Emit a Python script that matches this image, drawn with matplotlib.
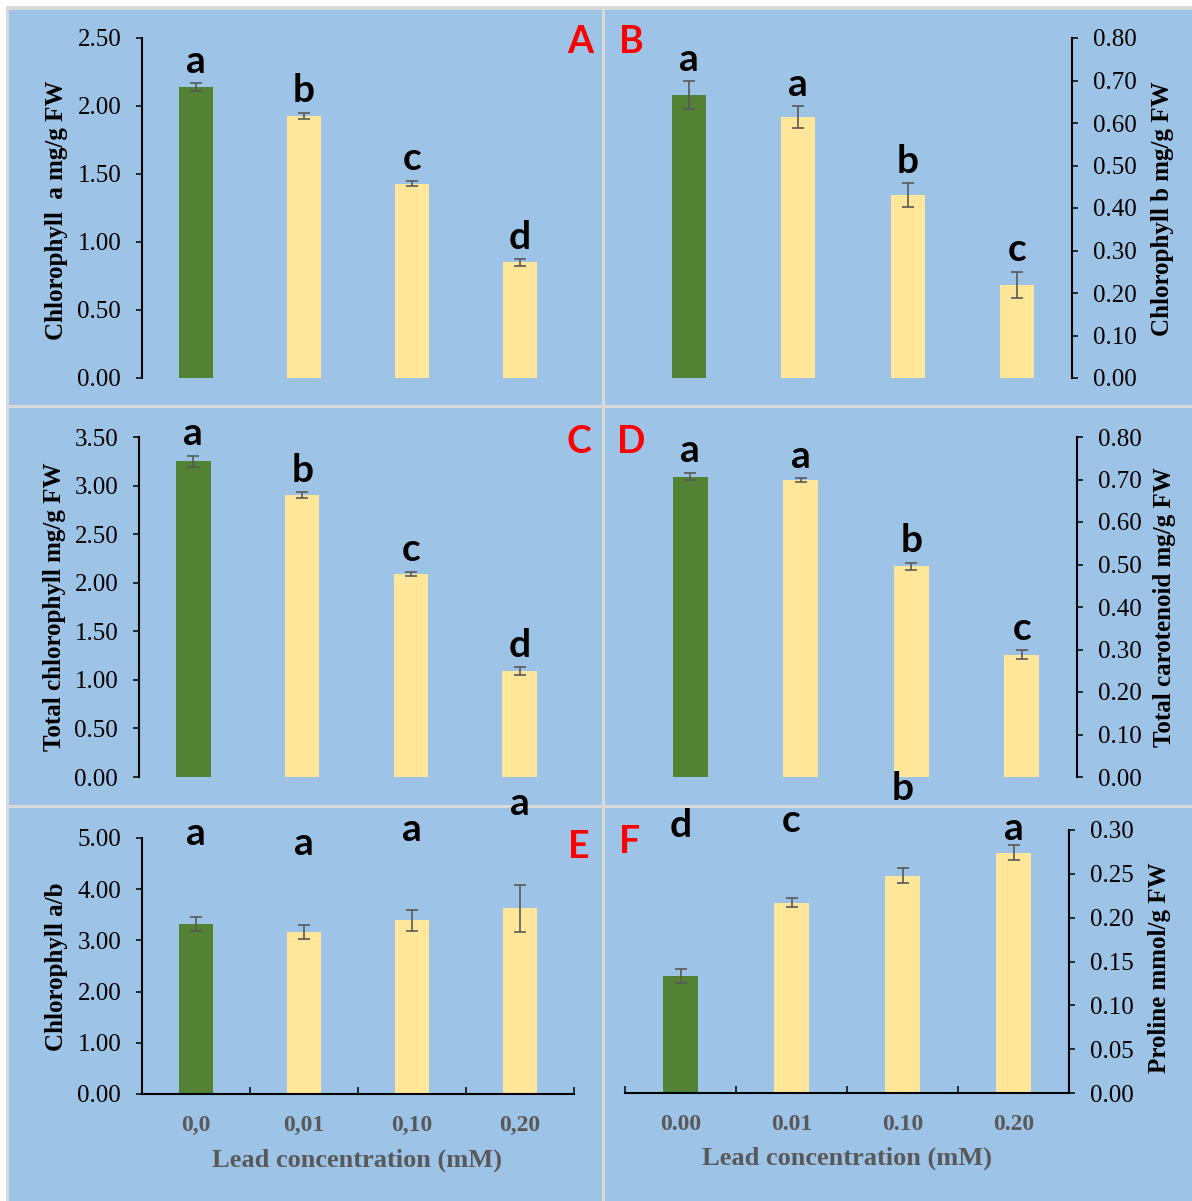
import numpy as np
import matplotlib
matplotlib.use('Agg')
import matplotlib.pyplot as plt
from matplotlib.patches import Rectangle

plt.rcParams['font.family'] = ['Liberation Serif', 'DejaVu Serif']

W, H = 1192, 1201

# categories
x_pos = [0, 1, 2, 3]
lead_e = ['0,0', '0,01', '0,10', '0,20']
lead_f = ['0.00', '0.01', '0.10', '0.20']

# A - chlorophyll a
chl_a = [2.14, 1.93, 1.43, 0.85]
chl_a_err = [0.028, 0.022, 0.020, 0.023]
chl_a_sig = ['a', 'b', 'c', 'd']

# B - chlorophyll b
chl_b = [0.666, 0.614, 0.431, 0.219]
chl_b_err = [0.032, 0.026, 0.028, 0.031]
chl_b_sig = ['a', 'a', 'b', 'c']

# C - total chlorophyll
total_chl = [3.25, 2.90, 2.09, 1.09]
total_chl_err = [0.057, 0.030, 0.025, 0.040]
total_chl_sig = ['a', 'b', 'c', 'd']

# D - total carotenoid
carotenoid = [0.707, 0.698, 0.496, 0.288]
carotenoid_err = [0.009, 0.005, 0.008, 0.011]
carotenoid_sig = ['a', 'a', 'b', 'c']

# E - chlorophyll a/b (letters sit at fixed heights)
chl_ratio = [3.32, 3.17, 3.39, 3.63]
chl_ratio_err = [0.14, 0.14, 0.21, 0.46]
chl_ratio_sig = ['a', 'a', 'a', 'a']
chl_ratio_sig_y = [4.86, 4.66, 4.94, 5.44]

# F - proline
proline = [0.134, 0.217, 0.248, 0.274]
proline_err = [0.008, 0.005, 0.0085, 0.0084]
proline_sig = ['d', 'c', 'b', 'a']
proline_sig_y = [0.292, 0.298, 0.334, 0.289]

bar_colors = ['#548235', '#FFE699', '#FFE699', '#FFE699']
bg_blue = '#9DC3E6'
sep_gray = '#D9D9D9'
err_gray = '#595959'
label_gray = '#595959'

panels = [
    dict(tag='A', values=chl_a, err=chl_a_err, sig=chl_a_sig, sig_y=None,
         ylabel='Chlorophyll  a mg/g FW', ymax=2.5, ystep=0.5, side='left',
         box=(142, 38, 574, 378), ylabel_xy=(57, 210), tag_xy=(580, 42), xlabels=None),
    dict(tag='B', values=chl_b, err=chl_b_err, sig=chl_b_sig, sig_y=None,
         ylabel='Chlorophyll b mg/g FW', ymax=0.8, ystep=0.1, side='right',
         box=(634, 38, 1072, 378), ylabel_xy=(1162, 209), tag_xy=(631, 42), xlabels=None),
    dict(tag='C', values=total_chl, err=total_chl_err, sig=total_chl_sig, sig_y=None,
         ylabel='Total chlorophyll mg/g FW', ymax=3.5, ystep=0.5, side='left',
         box=(139, 437, 574, 777), ylabel_xy=(55, 607), tag_xy=(579, 442), xlabels=None),
    dict(tag='D', values=carotenoid, err=carotenoid_err, sig=carotenoid_sig, sig_y=None,
         ylabel='Total carotenoid mg/g FW', ymax=0.8, ystep=0.1, side='right',
         box=(635, 437, 1077, 777), ylabel_xy=(1164, 607), tag_xy=(631, 442), xlabels=None),
    dict(tag='E', values=chl_ratio, err=chl_ratio_err, sig=chl_ratio_sig, sig_y=chl_ratio_sig_y,
         ylabel='Chlorophyll a/b', ymax=5.0, ystep=1.0, side='left',
         box=(142, 838, 574, 1094), ylabel_xy=(56, 967), tag_xy=(579, 847), xlabels=lead_e,
         xlabel_xy=(357, 1160)),
    dict(tag='F', values=proline, err=proline_err, sig=proline_sig, sig_y=proline_sig_y,
         ylabel='Proline mmol/g FW', ymax=0.3, ystep=0.05, side='right',
         box=(625, 830, 1069, 1093), ylabel_xy=(1159, 968), tag_xy=(630, 842), xlabels=lead_f,
         xlabel_xy=(847, 1158)),
]

fig = plt.figure(figsize=(W / 100, H / 100), dpi=100, facecolor='white')


def px_rect(x0, y0, x1, y1, color, z):
    fig.add_artist(Rectangle((x0 / W, 1 - y1 / H), (x1 - x0) / W, (y1 - y0) / H,
                             transform=fig.transFigure, facecolor=color,
                             edgecolor='none', zorder=z))


# panel background and separators
px_rect(8, 8, W, H, bg_blue, -5)
px_rect(6, 6, W, 10, sep_gray, -4)
px_rect(6, 6, 9, H, sep_gray, -4)
px_rect(602, 8, 605, H, sep_gray, -4)
px_rect(6, 405, W, 408, sep_gray, -4)
px_rect(6, 805, W, 808, sep_gray, -4)

for p in panels:
    l, t, r, b = p['box']
    ax = fig.add_axes([l / W, 1 - b / H, (r - l) / W, (b - t) / H])
    ax.patch.set_alpha(0)

    ax.bar(x_pos, p['values'], width=0.315, color=bar_colors, zorder=2)
    ax.errorbar(x_pos, p['values'], yerr=p['err'], fmt='none', ecolor=err_gray,
                elinewidth=1.2, capsize=4.5, capthick=1.2, zorder=3)

    ax.set_xlim(-0.5, 3.5)
    ax.set_ylim(0, p['ymax'])
    yt = np.arange(0, p['ymax'] + p['ystep'] / 2, p['ystep'])
    ax.set_yticks(yt)
    ax.set_yticklabels(['%.2f' % v for v in yt])

    for s in ['top', 'bottom', 'left', 'right']:
        ax.spines[s].set_visible(False)
    ax.spines[p['side']].set_visible(True)
    ax.spines[p['side']].set_linewidth(1.5)
    if p['side'] == 'right':
        ax.yaxis.tick_right()
        ax.yaxis.set_label_position('right')
    ax.tick_params(axis='y', length=4.5, width=1.1, pad=10.5, labelsize=18,
                   labelcolor='black')

    # y axis title
    ax.set_ylabel(p['ylabel'], fontsize=18, fontweight='bold', color='black')
    ax.yaxis.label.set_va('center')
    lx, ly = p['ylabel_xy']
    ax.yaxis.set_label_coords((lx - l) / (r - l), (b - ly) / (b - t))

    if p['xlabels'] is None:
        ax.set_xticks([])
    else:
        ax.spines['bottom'].set_visible(True)
        ax.spines['bottom'].set_linewidth(1.5)
        ax.set_xticks(x_pos)
        ax.set_xticklabels(p['xlabels'])
        ax.set_xticks([-0.5, 0.5, 1.5, 2.5, 3.5], minor=True)
        ax.tick_params(axis='x', which='major', length=0, pad=15, labelsize=17,
                       labelcolor=label_gray)
        ax.tick_params(axis='x', which='minor', direction='in', length=5, width=1.1)
        for lbl in ax.get_xticklabels():
            lbl.set_fontweight('bold')
        ax.set_xlabel('Lead concentration (mM)', fontsize=19, fontweight='bold',
                      color=label_gray)
        ax.xaxis.label.set_va('center')
        xx, xy = p['xlabel_xy']
        ax.xaxis.set_label_coords((xx - l) / (r - l), (b - xy) / (b - t))

    # significance letters
    for i, s in enumerate(p['sig']):
        if p['sig_y'] is None:
            ax.annotate(s, (x_pos[i], p['values'][i] + p['err'][i]), xytext=(0, 7.5),
                        textcoords='offset points', ha='center', va='baseline',
                        fontsize=28, fontweight='bold', family=['Lato', 'DejaVu Sans'],
                        color='black', annotation_clip=False, zorder=4)
        else:
            ax.text(x_pos[i], p['sig_y'][i], s, ha='center', va='baseline',
                    fontsize=28, fontweight='bold', family=['Lato', 'DejaVu Sans'],
                    color='black', clip_on=False, zorder=4)

    tx, ty = p['tag_xy']
    fig.text(tx / W, 1 - ty / H, p['tag'], color='red', fontsize=27, fontweight='bold',
             family=['Lato', 'DejaVu Sans'], ha='center', va='center')

fig.savefig('out.png', dpi=100, facecolor='white')
